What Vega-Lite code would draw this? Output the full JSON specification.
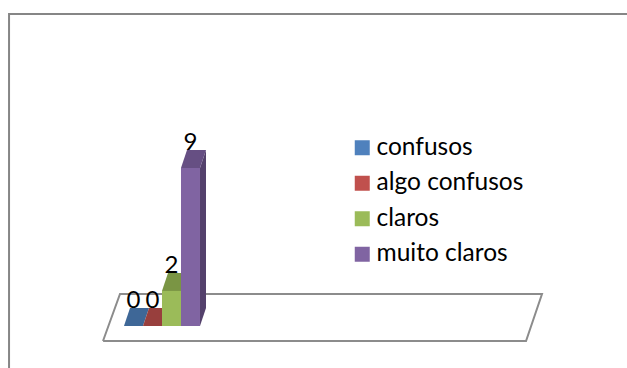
{
"$schema":"https://vega.github.io/schema/vega-lite/v6.json",
"width":627,"height":368,
"autosize":{"type":"fit","contains":"padding"},
"padding":0,
"background":"white",
"config":{"view":{"stroke":null},"font":"Lato"},
"datasets":{
"bars":[{"series":"confusos","value":0},{"series":"algo confusos","value":0},{"series":"claros","value":2},{"series":"muito claros","value":9}],
"floor":[{"step":0,"px":-1.105,"py":-0.855},{"step":1,"px":21.16,"py":-0.855},{"step":2,"px":22.0,"py":1.823},{"step":3,"px":-0.21,"py":1.823},{"step":4,"px":-1.105,"py":-0.855}],
"frame":[{"step":0,"px":-6.05,"py":-3},{"step":1,"px":-6.05,"py":17.78},{"step":2,"px":27,"py":17.78}]
},
"encoding":{
"x":{"field":"px","type":"quantitative","scale":{"domain":[-6.526,26.474],"nice":false,"zero":false},"axis":null},
"y":{"field":"py","type":"quantitative","scale":{"domain":[-2.393,18.575],"nice":false,"zero":false},"axis":null}
},
"layer":[
{"data":{"name":"frame"},"mark":{"type":"line","stroke":"#868686","strokeWidth":2,"clip":true},"encoding":{"order":{"field":"step","type":"quantitative"}}},
{"data":{"name":"floor"},"mark":{"type":"line","stroke":"#8c8c8c","strokeWidth":2},"encoding":{"order":{"field":"step","type":"quantitative"}}},
{"data":{"name":"bars"},
 "transform":[
  {"calculate":"indexof(['confusos','algo confusos','claros','muito claros'],datum.series)","as":"i"},
  {"calculate":"[0,1,2,3]","as":"corners"},{"flatten":["corners"],"as":["corner"]},
  {"calculate":"datum.i+1+[0,0.316,0.316,0][datum.corner]","as":"px"},
  {"calculate":"[0,1.026,1.026+datum.value,datum.value][datum.corner]","as":"py"}],
 "mark":{"type":"line","filled":true,"strokeWidth":0},
 "encoding":{
  "order":{"field":"corner","type":"quantitative"},
  "fill":{"field":"series","type":"nominal","legend":null,"scale":{"domain":["confusos","algo confusos","claros","muito claros"],"range":["#385d8a","#8c3836","#71893f","#54416c"]}}}},
{"data":{"name":"bars"},
 "transform":[
  {"calculate":"indexof(['confusos','algo confusos','claros','muito claros'],datum.series)","as":"i"},
  {"calculate":"[0,1,2,3]","as":"corners"},{"flatten":["corners"],"as":["corner"]},
  {"calculate":"datum.i+[0,1,1.316,0.316][datum.corner]","as":"px"},
  {"calculate":"datum.value+[0,0,1.026,1.026][datum.corner]","as":"py"}],
 "mark":{"type":"line","filled":true,"strokeWidth":0},
 "encoding":{
  "order":{"field":"corner","type":"quantitative"},
  "fill":{"field":"series","type":"nominal","legend":null,"scale":{"domain":["confusos","algo confusos","claros","muito claros"],"range":["#3e6797","#983f3d","#7a9544","#664f83"]}}}},
{"data":{"name":"bars"},
 "transform":[
  {"calculate":"indexof(['confusos','algo confusos','claros','muito claros'],datum.series)","as":"i"},
  {"calculate":"datum.i","as":"px"},{"calculate":"datum.i+1","as":"px2"},{"calculate":"datum.value","as":"py"}],
 "mark":{"type":"rect"},
 "encoding":{"x2":{"field":"px2"},"y2":{"datum":0},
  "fill":{"field":"series","type":"nominal","scale":{"domain":["confusos","algo confusos","claros","muito claros"],"range":["#4f81bd","#c0504d","#9bbb59","#8064a2"]},
  "legend":{"title":null,"orient":"none","legendX":350,"legendY":135.5,"symbolType":"square","symbolSize":225,"symbolStrokeWidth":0,"labelFont":"Lato","labelFontSize":24.5,"labelColor":"#000000","labelOffset":2,"labelLimit":300,"rowPadding":10.5,"padding":0}}}},
{"data":{"name":"bars"},
 "transform":[
  {"calculate":"indexof(['confusos','algo confusos','claros','muito claros'],datum.series)+0.5","as":"px"},
  {"calculate":"datum.value","as":"py"}],
 "mark":{"type":"text","font":"Lato","fontSize":24,"color":"#000000","baseline":"alphabetic","dy":-18},
 "encoding":{"text":{"field":"value","type":"quantitative"}}}
],
"resolve":{"scale":{"fill":"independent"}}
}
